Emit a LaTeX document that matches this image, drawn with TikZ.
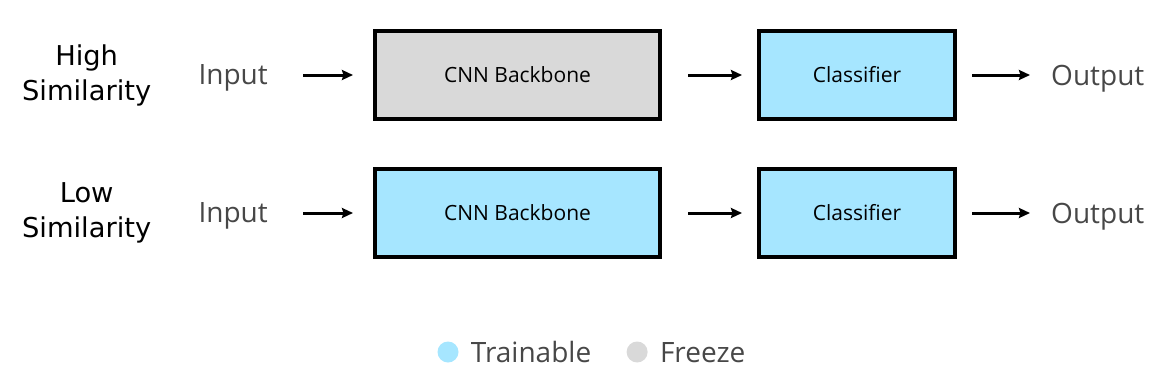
\documentclass[tikz,border=0pt]{standalone}
\usepackage{fontspec}
\setmainfont{Open Sans}
\newfontfamily\dejavu{DejaVu Sans}
\usepackage{tikz}
\usetikzlibrary{arrows.meta,positioning}
\usepackage{xcolor}
\definecolor{trainblue}{HTML}{A6E6FF}
\definecolor{freezegray}{HTML}{D9D9D9}

\begin{document}
\begin{tikzpicture}[x=1pt,y=-1pt,>={Stealth[length=11pt,width=10pt,inset=1.5pt]},
lbl/.style={font=\dejavu\fontsize{27.3}{35}\selectfont,align=center,inner sep=0pt},
io/.style={font=\fontsize{28}{34}\selectfont,text=black!72,inner sep=0pt,text depth=0pt},
blk/.style={draw,line width=4pt,minimum height=88pt,font=\fontsize{21}{24}\selectfont,inner sep=0pt},
train/.style={blk,fill=trainblue},
frz/.style={blk,fill=freezegray},
dot/.style={circle,inner sep=0pt,minimum size=21pt},
flow/.style={->,line width=3pt}]
\useasboundingbox (0,0) rectangle (1162,386);
% high similarity row
\node[frz,minimum width=285pt] (bb1) at (517.5,75) {CNN Backbone};
\node[train,minimum width=196pt,right=95pt of bb1] (cls1) {Classifier};
\node[io,left=105pt of bb1] (in1) {Input};
\node[io,right=94pt of cls1] (out1) {Output};
\node[lbl,left=47pt of in1] (high) {High\\Similarity};
% low similarity row
\node[train,minimum width=285pt,below=46pt of bb1] (bb2) {CNN Backbone};
\node[train,minimum width=196pt,right=95pt of bb2] (cls2) {Classifier};
\node[io,left=105pt of bb2] (in2) {Input};
\node[io,right=94pt of cls2] (out2) {Output};
\node[lbl,left=47pt of in2] (low) {Low\\Similarity};
\draw[flow,shorten <=35pt,shorten >=20pt] (in1)--(bb1);
\draw[flow,shorten <=26pt,shorten >=15pt] (bb1)--(cls1);
\draw[flow,shorten <=15pt,shorten >=21pt] (cls1)--(out1);
\draw[flow,shorten <=35pt,shorten >=20pt] (in2)--(bb2);
\draw[flow,shorten <=26pt,shorten >=15pt] (bb2)--(cls2);
\draw[flow,shorten <=15pt,shorten >=21pt] (cls2)--(out2);
% legend
\node[dot,fill=trainblue] (dtrain) at (448,352) {};
\node[io,right=12pt of dtrain] (ltrain) {Trainable};
\node[dot,fill=freezegray,right=35pt of ltrain] (dfreeze) {};
\node[io,right=12pt of dfreeze] (lfreeze) {Freeze};
\end{tikzpicture}
\end{document}
